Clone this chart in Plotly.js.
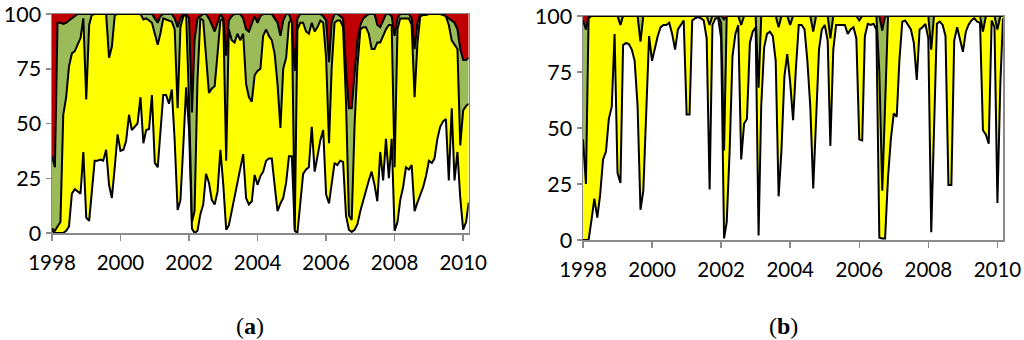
<!DOCTYPE html>
<html>
<head>
<meta charset="utf-8">
<script src="https://cdn.plot.ly/plotly-3.0.1.min.js"></script>
<style>html,body{margin:0;padding:0;background:#fff;}#chart{width:1024px;height:340px;}</style>
</head>
<body>
<div id="chart"></div>
<script>
// Monthly categories: Jan 1998 .. Mar 2010 (147 months)
var START_YEAR = 1998, N_MONTHS = 147;
var months = [];
for (var i = 0; i < N_MONTHS; i++) {
  var y = START_YEAR + Math.floor(i / 12), m = (i % 12) + 1;
  months.push(y + '-' + (m < 10 ? '0' + m : m) + '-01');
}
var tickYears = ['1998','2000','2002','2004','2006','2008','2010'];
var yTicks = [0, 25, 50, 75, 100];
var TOTAL = 100;

// Panel (a): cumulative boundaries (%)
var aWhite = [1,0,0,0,0,1,3,18,20,19,18,37,7,5.5,19,33,33,33.5,33,38,22,16,30,45,
  37.5,38,42,54,47,48.5,50,62,41,47,47.5,63,32,30,45,63,63,59,65.5,42,10.5,15,40,66.5,
  47,2,0,1,8.5,13,27,23,15,13,19,38,22,1.5,3.5,10,17.5,24,30,36,16,13,14.5,26.5,
  22,26,28,33,34,34,22,10,13.5,16,23,35,35,1,0,15,27,29,30,48.5,28,35,42.5,47,
  17.5,13.5,22,32,31,33,32.5,8,1.5,0.5,1.5,4,10,15,20,24,28,22,14.5,37,24,43,25,43,
  1,5,15,21,30,29,31,10,14,17.5,21,26,33,32,34,43,48.5,51,52,24,57,24,37,16,
  1.5,5,14];
var aYellow = [2,1,3,5,54,62,76,82,83,86,89,98,61,95,99.5,100,100,100,100,100,80,85,99.5,100,
  100,100,100,100,100,100,100,100,97.5,98,97,96,91,86,91,98,97.5,97,96.5,93,57,94,99,99.5,
  60,5,10,70,98,97,80,64,66,67,82,97,98,33,93,88,87,91,88,91,68,62,60,72,
  74,75,90,93,90,88,82,68,48,75,80,96,98,2,93,96,96,92,91,96,92,94,97,96,
  80,41,75,96,97,97,94,60,8,6,50,76,93,94,94,91,84,84,87,87,90,93,95,95,
  30,93,98,98,98,98,95,62,87,99,99.5,99.5,100,100,100,100,100,99.5,99,95,88,86,84,40,
  56,58,59];
var aGreen = [35,30,96,96,95.5,96,97,98,99,100,100,100,100,100,100,100,100,100,100,100,100,100,100,100,
  100,100,100,100,100,100,100,100,100,100,100,100,98,96,99,100,100,100,100,98,94,98,100,100,
  98,55,88,98,99,100,100,98,95,92,96,100,98,81,97,99,100,100,100,98,93,92,96,99,
  96,99,100,100,100,100,98,96,90,97,100,100,96,74,98,100,100,100,100,100,100,100,100,99,
  97,78,96,100,100,99,98,75,57,57,75,88,95,98,99,100,100,100,95,94,97,100,100,99,
  90,98,100,100,100,100,98,84,96,100,100,100,100,100,100,100,100,100,99,98,97,96,93,84,
  79,79,80];

// Panel (b): cumulative boundaries (%)
var bWhite = [0,0,0,9,18.5,10,20,36,39.5,54,59.5,92,30,25.5,87,88,87.5,85,80,60,13.5,22,58,91,
  80,86,91,95,96,96,97,92,85,94,96,98,56,56,98,99,99.5,99,98,90,22.5,96,99,99,
  90,0.7,8,40,82,92,96,36,52,54,88,93,95,2,60,86,92,93,91,80,19.5,40,73,83,
  70.5,53.5,76,96,96,94,80,59.5,23,55,85,94,96,89,42,85,96,96,96,96,92,94,95,90,
  45,44.5,91,96.5,96,96.5,94,1,0.7,0.7,28,45,56.5,55,80,97.5,98,96,94,88,71.5,94,95,96.5,
  90,3.5,50,96.5,97.5,96,91,24.5,24.5,89,95,90,84,93,96,98,99,97.5,97,49,47,43,98,95,
  16.5,70,99];
var bYellow = [45,25,99,100,100,100,100,100,100,100,100,100,100,96,100,100,100,100,100,100,88.5,100,100,100,
  100,100,100,100,100,100,100,100,100,100,100,100,100,100,100,100,100,100,100,100,96,100,100,100,
  97,40,100,100,100,100,100,96,100,100,100,100,100,68,100,100,100,100,100,100,95,100,100,100,
  96,100,100,100,100,100,100,100,93,100,100,100,100,100,90,100,100,100,100,100,100,100,100,100,
  98,100,100,100,100,100,100,75,22,60,100,100,100,100,100,100,100,100,100,100,100,100,100,100,
  100,85,100,100,100,100,100,100,100,100,100,100,100,100,100,100,100,100,100,93,100,100,100,100,
  94,100,100];
var bGreen = [98,94,100,100,100,100,100,100,100,100,100,100,100,100,100,100,100,100,100,100,100,100,100,100,
  100,100,100,100,100,100,100,100,100,100,100,100,100,100,100,100,100,100,100,100,100,100,100,100,
  100,98.5,100,100,100,100,100,100,100,100,100,100,100,100,100,100,100,100,100,100,100,100,100,100,
  100,100,100,100,100,100,100,100,100,100,100,100,100,100,100,100,100,100,100,100,100,100,100,100,
  100,100,100,100,100,100,100,100,93.5,100,100,100,100,100,100,100,100,100,100,100,100,100,100,100,
  100,100,100,100,100,100,100,100,100,100,100,100,100,100,100,100,100,100,100,100,100,100,100,100,
  100,100,100];

var YELLOW = '#FFFF00', GREEN = '#9BBB59', RED = '#C00000', LINE = '#000000';

function panelTraces(W, Y, G, xa, ya) {
  var top = months.map(function () { return TOTAL; });
  return [
    {x: months, y: W, xaxis: xa, yaxis: ya, mode: 'lines', line: {color: LINE, width: 2}, fill: 'none', hoverinfo: 'skip'},
    {x: months, y: Y, xaxis: xa, yaxis: ya, mode: 'lines', line: {color: LINE, width: 2}, fill: 'tonexty', fillcolor: YELLOW, hoverinfo: 'skip'},
    {x: months, y: G, xaxis: xa, yaxis: ya, mode: 'lines', line: {color: LINE, width: 2}, fill: 'tonexty', fillcolor: GREEN, hoverinfo: 'skip'},
    {x: months, y: top, xaxis: xa, yaxis: ya, mode: 'lines', line: {color: 'rgba(0,0,0,0)', width: 0}, fill: 'tonexty', fillcolor: RED, hoverinfo: 'skip'}
  ];
}

var data = panelTraces(aWhite, aYellow, aGreen, 'x', 'y')
  .concat(panelTraces(bWhite, bYellow, bGreen, 'x2', 'y2'));

var XFONT = {family: 'Lato, "Open Sans", sans-serif', size: 20.5, color: '#000'};
var YFONT = {family: 'Lato, "Open Sans", sans-serif', size: 21.5, color: '#000'};
var AXC = '#8a8a8a';
function xAxis(dom, anchor) {
  return {domain: dom, anchor: anchor, type: 'date', range: [months[0], months[N_MONTHS - 1]],
    tickvals: tickYears.map(function (t) { return t + '-01-01'; }), ticktext: tickYears,
    ticks: 'outside', ticklen: 6, tickwidth: 1.5, tickcolor: AXC, ticklabelstandoff: 5,
    showline: true, linecolor: AXC, linewidth: 1.5, mirror: true,
    showgrid: false, zeroline: false, tickfont: XFONT, fixedrange: true};
}
function yAxis(dom, anchor) {
  return {domain: dom, anchor: anchor, range: [0, TOTAL], tickvals: yTicks,
    ticks: 'outside', ticklen: 5, tickwidth: 1.5, tickcolor: AXC,
    showline: true, linecolor: AXC, linewidth: 1.5, mirror: true,
    showgrid: false, zeroline: false, tickfont: YFONT, fixedrange: true};
}

var CAPFONT = {family: '"Liberation Serif", "Times New Roman", serif', size: 24, color: '#000'};
var layout = {
  width: 1024, height: 340,
  margin: {l: 0, r: 0, t: 0, b: 0},
  paper_bgcolor: '#fff', plot_bgcolor: '#fff',
  showlegend: false,
  xaxis: xAxis([52 / 1024, 468.7 / 1024], 'y'),
  yaxis: yAxis([(340 - 233) / 340, (340 - 14) / 340], 'x'),
  xaxis2: xAxis([583 / 1024, 1003 / 1024], 'y2'),
  yaxis2: yAxis([(340 - 240) / 340, (340 - 16) / 340], 'x2'),
  annotations: [
    {text: '(<b>a</b>)', xref: 'paper', yref: 'paper', x: 250 / 1024, y: (340 - 326) / 340, xanchor: 'center', yanchor: 'middle', showarrow: false, font: CAPFONT},
    {text: '(<b>b</b>)', xref: 'paper', yref: 'paper', x: 783 / 1024, y: (340 - 326) / 340, xanchor: 'center', yanchor: 'middle', showarrow: false, font: CAPFONT}
  ]
};

Plotly.newPlot('chart', data, layout, {staticPlot: true, displayModeBar: false});
</script>
</body>
</html>
